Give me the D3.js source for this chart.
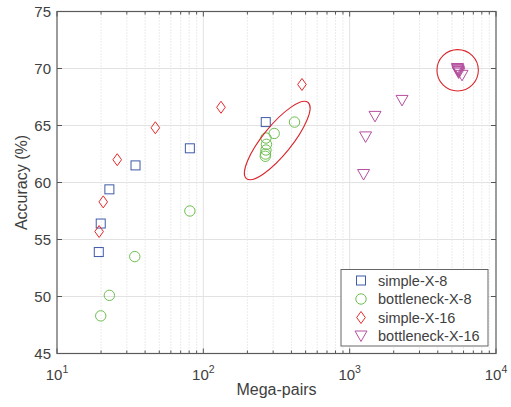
<!DOCTYPE html>
<html>
<head>
<meta charset="utf-8">
<script src="https://cdn.jsdelivr.net/npm/d3@7"></script>
<style>
    body { margin: 0; background: #fff; }
    text { font-family: "Liberation Sans", Arial, Helvetica, sans-serif; fill: #404040; }
</style>
</head>
<body>
<svg width="511" height="407"></svg>
<script>

    // values
    var simple8X = [19.3, 19.9, 22.8, 34.4, 80.9, 267];
    var simple8Y = [53.9, 56.4, 59.4, 61.5, 63.0, 65.3];

    var bottle8X = [19.9, 22.8, 34.0, 80.9, 265, 266, 268, 270, 268, 305, 420];
    var bottle8Y = [48.3, 50.1, 53.5, 57.5, 62.3, 62.5, 62.85, 63.35, 63.9, 64.3, 65.3];

    var simple16X = [19.4, 20.7, 25.8, 47, 132, 472];
    var simple16Y = [55.7, 58.3, 62.0, 64.8, 66.6, 68.6];

    var bottle16X = [1245, 1285, 1490, 2280, 5450, 5480, 5500, 5520, 5540, 5560, 5860];
    var bottle16Y = [60.7, 64.0, 65.8, 67.2, 70.0, 69.9, 69.85, 69.75, 69.7, 69.6, 69.4];

    var yTicks = [45, 50, 55, 60, 65, 70, 75];
    var xDecades = [1, 2, 3, 4];

    var seriesNames = ["simple-X-8", "bottleneck-X-8", "simple-X-16", "bottleneck-X-16"];
    var seriesColors = ["#3f5ba9", "#6dbf4f", "#e62a2a", "#b5509f"];
    var seriesShapes = ["square", "circle", "diamond", "triangle"];

    var svg = d3.select("svg"),
        pLeft = 57, pRight = 496, pTop = 11.5, pBottom = 353.5;

    var x = d3.scaleLog().domain([10, 1e4]).range([pLeft, pRight]);
    var y = d3.scaleLinear().domain([45, 75]).range([pBottom, pTop]);

    var grid = svg.append("g");

    // minor vertical dotted grid
    var minors = [];
    for (var d = 1; d < 4; d++) {
        for (var k = 2; k < 10; k++) minors.push(k * Math.pow(10, d));
    }
    grid.selectAll(".minor").data(minors).enter().append("line")
        .attr("x1", x).attr("x2", x)
        .attr("y1", pTop).attr("y2", pBottom)
        .attr("stroke", "#cfcfcf")
        .attr("stroke-width", 0.8)
        .attr("stroke-dasharray", "1,2");

    // major grid
    grid.selectAll(".majx").data([100, 1000]).enter().append("line")
        .attr("x1", x).attr("x2", x)
        .attr("y1", pTop).attr("y2", pBottom)
        .attr("stroke", "#e2e2e2");
    grid.selectAll(".majy").data(yTicks.slice(1, -1)).enter().append("line")
        .attr("x1", pLeft).attr("x2", pRight)
        .attr("y1", y).attr("y2", y)
        .attr("stroke", "#e2e2e2");

    // ticks (inside, all four sides)
    var ticks = svg.append("g").attr("stroke", "#555").attr("stroke-width", 1);
    xDecades.forEach(function (e) {
        var px = x(Math.pow(10, e));
        ticks.append("line").attr("x1", px).attr("x2", px).attr("y1", pBottom).attr("y2", pBottom - 5);
        ticks.append("line").attr("x1", px).attr("x2", px).attr("y1", pTop).attr("y2", pTop + 5);
    });
    minors.forEach(function (m) {
        var px = x(m);
        ticks.append("line").attr("x1", px).attr("x2", px).attr("y1", pBottom).attr("y2", pBottom - 3);
        ticks.append("line").attr("x1", px).attr("x2", px).attr("y1", pTop).attr("y2", pTop + 3);
    });
    yTicks.forEach(function (v) {
        ticks.append("line").attr("x1", pLeft).attr("x2", pLeft + 5).attr("y1", y(v)).attr("y2", y(v));
        ticks.append("line").attr("x1", pRight).attr("x2", pRight - 5).attr("y1", y(v)).attr("y2", y(v));
    });

    // box
    svg.append("rect")
        .attr("x", pLeft).attr("y", pTop)
        .attr("width", pRight - pLeft).attr("height", pBottom - pTop)
        .attr("fill", "none").attr("stroke", "#5a5a5a").attr("stroke-width", 1.2);

    // tick labels
    svg.selectAll(".ylab").data(yTicks).enter().append("text")
        .attr("x", pLeft - 6).attr("y", function (v) { return y(v) + 5; })
        .attr("text-anchor", "end")
        .attr("font-size", "15px")
        .text(function (v) { return v; });

    var xl = svg.selectAll(".xlab").data(xDecades).enter().append("text")
        .attr("x", function (e) { return x(Math.pow(10, e)); })
        .attr("y", 380)
        .attr("text-anchor", "middle")
        .attr("font-size", "15px");
    xl.append("tspan").text("10");
    xl.append("tspan").attr("font-size", "10.5px").attr("dy", -7).text(function (e) { return e; });

    // axis titles
    svg.append("text")
        .attr("x", (pLeft + pRight) / 2).attr("y", 395)
        .attr("text-anchor", "middle")
        .attr("font-size", "16px")
        .text("Mega-pairs");
    svg.append("text")
        .attr("transform", "translate(27," + ((pTop + pBottom) / 2) + ") rotate(-90)")
        .attr("text-anchor", "middle")
        .attr("font-size", "16px")
        .text("Accuracy (%)");

    function marker(sel, shape, color) {
        if (shape === "square") {
            sel.append("rect").attr("x", -4.5).attr("y", -4.5).attr("width", 9).attr("height", 9);
        } else if (shape === "circle") {
            sel.append("circle").attr("r", 5.2);
        } else if (shape === "diamond") {
            sel.append("path").attr("d", "M0,-6L4.3,0L0,6L-4.3,0Z");
        } else {
            sel.append("path").attr("d", "M-6,-5L6,-5L0,5.5Z");
        }
        sel.selectAll("*").attr("fill", "none").attr("stroke", color).attr("stroke-width", 1);
    }

    var allX = [simple8X, bottle8X, simple16X, bottle16X];
    var allY = [simple8Y, bottle8Y, simple16Y, bottle16Y];

    allX.forEach(function (xs, si) {
        var pts = xs.map(function (v, i) { return [v, allY[si][i]]; });
        svg.append("g").selectAll("g").data(pts).enter().append("g")
            .attr("transform", function (p) { return "translate(" + x(p[0]) + "," + y(p[1]) + ")"; })
            .each(function () { marker(d3.select(this), seriesShapes[si], seriesColors[si]); });
    });

    // annotations: ellipse around bottleneck-X-8 cluster, circle around bottleneck-X-16 cluster
    var ellipseCenter = [320, 63.68];
    var circleCenter = [5470, 69.84];
    svg.append("ellipse")
        .attr("transform", "translate(" + x(ellipseCenter[0]) + "," + y(ellipseCenter[1]) + ") rotate(-51)")
        .attr("rx", 49).attr("ry", 14.5)
        .attr("fill", "none").attr("stroke", "#d9262c").attr("stroke-width", 1.1);
    svg.append("circle")
        .attr("cx", x(circleCenter[0])).attr("cy", y(circleCenter[1]))
        .attr("r", 20.7)
        .attr("fill", "none").attr("stroke", "#d9262c").attr("stroke-width", 1.1);

    // legend
    var lg = svg.append("g").attr("transform", "translate(341,269.5)");
    lg.append("rect").attr("width", 147).attr("height", 76.5)
        .attr("fill", "#fff").attr("stroke", "#666").attr("stroke-width", 1);
    seriesNames.forEach(function (name, i) {
        var row = lg.append("g").attr("transform", "translate(20," + (11 + i * 18.5) + ")");
        var m = row.append("g");
        marker(m, seriesShapes[i], seriesColors[i]);
        row.append("text").attr("x", 17).attr("y", 5)
            .attr("font-size", "14.5px")
            .text(name);
    });

</script>
</body>
</html>
